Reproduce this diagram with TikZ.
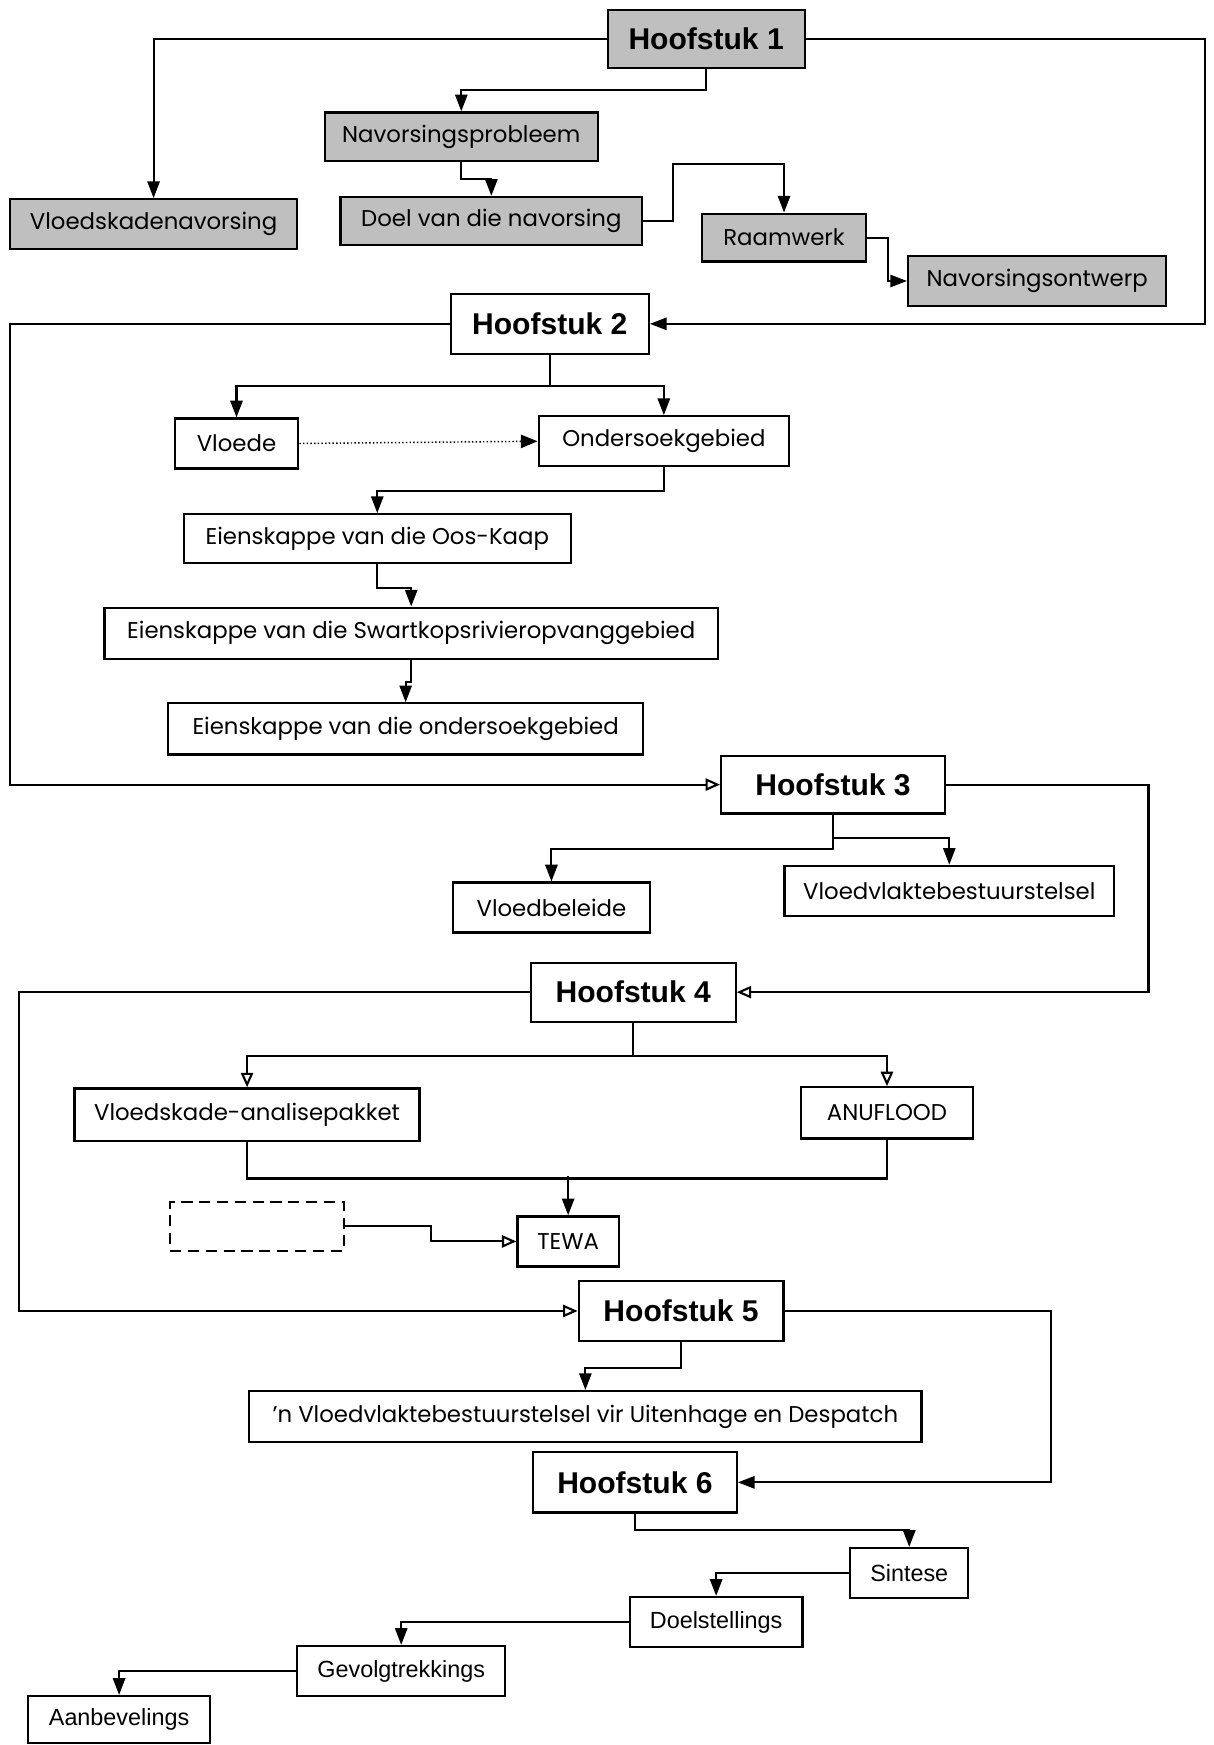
\documentclass[tikz,border=0pt]{standalone}
\usepackage{fontspec}
\setmainfont{Poppins}
\newfontfamily\arialf{Liberation Sans}
\usetikzlibrary{arrows.meta}

\tikzset{
  box/.style={draw, line width=2pt, inner sep=0pt, align=center,
    font=\fontsize{20.5}{23}\selectfont},
  shaded/.style={box, fill=gray!50},
  chapter/.style={box, fill=white, font=\arialf\bfseries\fontsize{27}{30}\selectfont},
  plainsans/.style={box, font=\arialf\fontsize{21}{24}\selectfont},
  link/.style={line width=1.9pt},
  arr/.style={link, -{Triangle[length=15pt,width=11pt]}},
  oarr/.style={link, -{Triangle[open,length=13pt,width=11pt]}},
  dotarr/.style={line width=1.3pt, dotted, -{Triangle[length=15pt,width=12pt]}},
}

\begin{document}
\begin{tikzpicture}[x=1pt, y=-1pt]
\useasboundingbox (0,0) rectangle (1090,1568);

% Chapter 1 and its parts
\node[shaded, font=\arialf\bfseries\fontsize{27}{30}\selectfont,
      minimum width=177pt, minimum height=52pt] (h1) at (634.5,35) {Hoofstuk 1};
\node[shaded, minimum width=245pt, minimum height=44pt] (np) at (414.5,123) {Navorsingsprobleem};
\node[shaded, minimum width=258pt, minimum height=45pt] (vsn) at (138,201.5) {Vloedskadenavorsing};
\node[shaded, minimum width=271pt, minimum height=43pt] (doel) at (441.5,198.5) {Doel van die navorsing};
\node[shaded, minimum width=147pt, minimum height=43pt] (raam) at (704.5,213.5) {Raamwerk};
\node[shaded, minimum width=232pt, minimum height=45pt] (nont) at (932,252.5) {Navorsingsontwerp};

% Chapter 2
\node[chapter, minimum width=178pt, minimum height=54pt] (h2) at (494,291) {Hoofstuk 2};
\node[box, minimum width=111pt, minimum height=45pt] (vloede) at (212.5,398.5) {Vloede};
\node[box, minimum width=225pt, minimum height=45pt] (ond) at (596.5,396.5) {Ondersoekgebied};
\node[box, minimum width=348pt, minimum height=44pt] (ook) at (339,484) {Eienskappe van die Oos-Kaap};
\node[box, minimum width=551pt, minimum height=46pt] (swk) at (369.5,569) {Eienskappe van die Swartkopsrivieropvanggebied};
\node[box, minimum width=427pt, minimum height=46pt] (eog) at (364.5,655) {Eienskappe van die ondersoekgebied};

% Chapter 3
\node[chapter, minimum width=201pt, minimum height=52pt] (h3) at (748.5,705) {Hoofstuk 3};
\node[box, minimum width=177pt, minimum height=45pt] (vbel) at (495.5,815.5) {Vloedbeleide};
\node[box, minimum width=296pt, minimum height=45pt] (vvb) at (853,800.5) {Vloedvlaktebestuurstelsel};

% Chapter 4
\node[chapter, minimum width=184pt, minimum height=53pt] (h4) at (569,891.5) {Hoofstuk 4};
\node[box, minimum width=310pt, minimum height=47pt] (vap) at (222,1001.5) {Vloedskade-analisepakket};
\node[box, minimum width=154pt, minimum height=46pt] (anu) at (797,1000) {ANUFLOOD};
\node[box, minimum width=91pt, minimum height=45pt] (tewa) at (510.5,1115.5) {TEWA};
\node[box, dashed, dash pattern=on 10pt off 6pt, minimum width=156pt, minimum height=44pt] (dash) at (231,1102) {};

% Chapter 5
\node[chapter, minimum width=184pt, minimum height=54pt] (h5) at (612,1178) {Hoofstuk 5};
\node[box, minimum width=604pt, minimum height=46pt] (nvv) at (526,1273) {’n Vloedvlaktebestuurstelsel vir Uitenhage en Despatch};

% Chapter 6
\node[chapter, minimum width=183pt, minimum height=54pt] (h6) at (570.5,1332) {Hoofstuk 6};
\node[plainsans, minimum width=106pt, minimum height=45pt] (sin) at (817,1413.5) {Sintese};
\node[plainsans, minimum width=155pt, minimum height=45pt] (doelst) at (643.5,1457.5) {Doelstellings};
\node[plainsans, minimum width=187pt, minimum height=45pt] (gev) at (360.5,1501.5) {Gevolgtrekkings};
\node[plainsans, minimum width=164pt, minimum height=42pt] (aan) at (107,1545) {Aanbevelings};

% Connectors: chapter 1
\draw[arr] (h1.west) -| (vsn.north);
\draw[arr] (h1.south) -- ++(0,19) -| (np.north);
\draw[arr] (np.south) -- ++(0,15) -| (doel.north);
\draw[arr] (doel.east) -- ++(27,0) -- ++(0,-51) -| (raam.north);
\draw[arr] (raam.east) -- ++(19,0) |- (nont.west);
\draw[arr] (h1.east) -- ++(359,0) |- (h2.east);

% Connectors: chapter 2
\draw[oarr] (h2.west) -- ++(-395,0) |- (h3.west);
\draw[arr] (h2.south) -- ++(0,28) -| (vloede.north);
\draw[arr] (h2.south) -- ++(0,28) -| (ond.north);
\draw[dotarr] (vloede.east) -- (ond.west);
\draw[arr] (ond.south) -- ++(0,21) -| (ook.north);
\draw[arr] (ook.south) -- ++(0,21) -| (swk.north);
\draw[arr] (swk.south) -- ++(0,20) -| (eog.north);

% Connectors: chapter 3
\draw[oarr] (h3.east) -- ++(182,0) |- (h4.east);
\draw[arr] (h3.south) -- ++(0,21) -| (vvb.north);
\draw[arr] (h3.south) -- ++(0,31) -| (vbel.north);

% Connectors: chapter 4
\draw[oarr] (h4.west) -- ++(-459,0) |- (h5.west);
\draw[oarr] (h4.south) -- ++(0,30) -| (vap.north);
\draw[oarr] (h4.south) -- ++(0,30) -| (anu.north);
\draw[link] (vap.south) -- ++(0,33) -| (anu.south);
\draw[arr] (tewa.north) ++(0,-35) -- (tewa.north);
\draw[oarr] (dash.east) -- ++(77,0) |- (tewa.west);

% Connectors: chapter 5 and 6
\draw[arr] (h5.east) -- ++(239,0) |- (h6.east);
\draw[arr] (h5.south) -- ++(0,23) -| (nvv.north);
\draw[arr] (h6.south) -- ++(0,15) -| (sin.north);
\draw[arr] (sin.west) -| (doelst.north);
\draw[arr] (doelst.west) -| (gev.north);
\draw[arr] (gev.west) -| (aan.north);
\end{tikzpicture}
\end{document}
